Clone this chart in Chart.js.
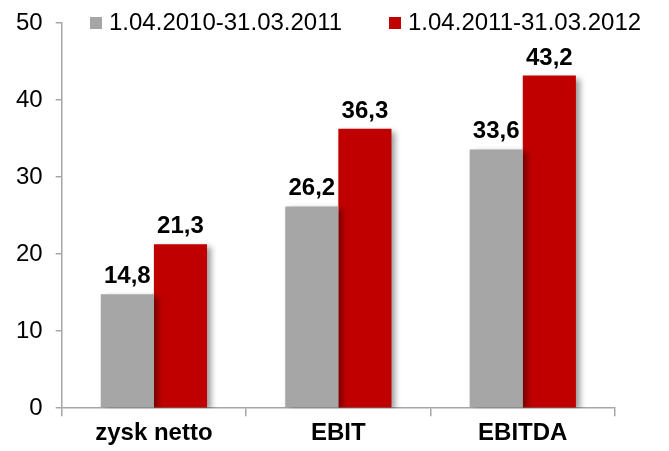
<!DOCTYPE html>
<html>
<head>
<meta charset="utf-8">
<script src="https://cdn.jsdelivr.net/npm/chart.js@4"></script>
<style>
  html, body { margin: 0; padding: 0; background: #fff; }
  #wrap { width: 669px; height: 451px; }
</style>
</head>
<body>
<div id="wrap"><canvas id="chart" width="669" height="451"></canvas></div>
<script>
const categories = ["zysk netto", "EBIT", "EBITDA"];
const seriesNames = ["1.04.2010-31.03.2011", "1.04.2011-31.03.2012"];
const prevYear = [14.8, 26.2, 33.6];
const currYear = [21.3, 36.3, 43.2];
const colors = ["#A6A6A6", "#C00000"];

const FONT = "'Liberation Sans', Arial, sans-serif";

// shadow behind the bars
const barShadow = {
    id: "barShadow",
    beforeDatasetDraw(chart) {
        const ctx = chart.ctx;
        ctx.save();
        ctx.shadowColor = "rgba(0,0,0,0.4)";
        ctx.shadowBlur = 6;
        ctx.shadowOffsetX = 4;
        ctx.shadowOffsetY = 3;
    },
    afterDatasetDraw(chart) {
        chart.ctx.restore();
    },
};

// values above bars
const valueLabels = {
    id: "valueLabels",
    afterDatasetsDraw(chart) {
        const ctx = chart.ctx;
        ctx.save();
        ctx.font = "bold 24px " + FONT;
        ctx.fillStyle = "#000";
        ctx.textAlign = "center";
        ctx.textBaseline = "alphabetic";
        chart.data.datasets.forEach((ds, i) => {
            chart.getDatasetMeta(i).data.forEach((bar, j) => {
                ctx.fillText(ds.data[j].toFixed(1).replace(".", ","), bar.x, bar.y - 11);
            });
        });
        ctx.restore();
    },
};

// legend drawn over the top of the plot
const topLegend = {
    id: "topLegend",
    afterDraw(chart) {
        const ctx = chart.ctx;
        ctx.save();
        ctx.font = "24px " + FONT;
        ctx.textBaseline = "middle";
        const y = 23;
        const starts = [90, 389];
        chart.data.datasets.forEach((ds, i) => {
            const x = starts[i];
            ctx.fillStyle = ds.backgroundColor;
            ctx.fillRect(x, y - 6, 12, 12);
            ctx.fillStyle = "#000";
            ctx.fillText(ds.label, x + 19, y);
        });
        ctx.restore();
    },
};

new Chart(document.getElementById("chart"), {
    type: "bar",
    data: {
        labels: categories,
        datasets: [
            { label: seriesNames[0], data: prevYear, backgroundColor: colors[0] },
            { label: seriesNames[1], data: currYear, backgroundColor: colors[1] },
        ],
    },
    options: {
        responsive: false,
        animation: false,
        layout: { padding: { top: 0, right: 54, left: 3, bottom: 0 } },
        datasets: {
            bar: { categoryPercentage: 0.576, barPercentage: 1.0 },
        },
        plugins: {
            legend: { display: false },
            tooltip: { enabled: false },
        },
        scales: {
            x: {
                grid: {
                    drawOnChartArea: false,
                    drawTicks: true,
                    tickLength: 8,
                    color: "#A6A6A6",
                    offset: true,
                    lineWidth: 1.5,
                },
                border: { color: "#A6A6A6", width: 1.5 },
                ticks: {
                    color: "#000",
                    font: { family: FONT, size: 24, weight: "bold" },
                    padding: 3,
                },
            },
            y: {
                min: 0,
                max: 50,
                grid: {
                    drawOnChartArea: false,
                    drawTicks: true,
                    tickLength: 6,
                    color: "#A6A6A6",
                    lineWidth: 1.5,
                },
                border: { color: "#A6A6A6", width: 1.5 },
                ticks: {
                    stepSize: 10,
                    color: "#000",
                    font: { family: FONT, size: 24, lineHeight: 0.85 },
                    padding: 13,
                },
            },
        },
    },
    plugins: [barShadow, valueLabels, topLegend],
});
</script>
</body>
</html>
